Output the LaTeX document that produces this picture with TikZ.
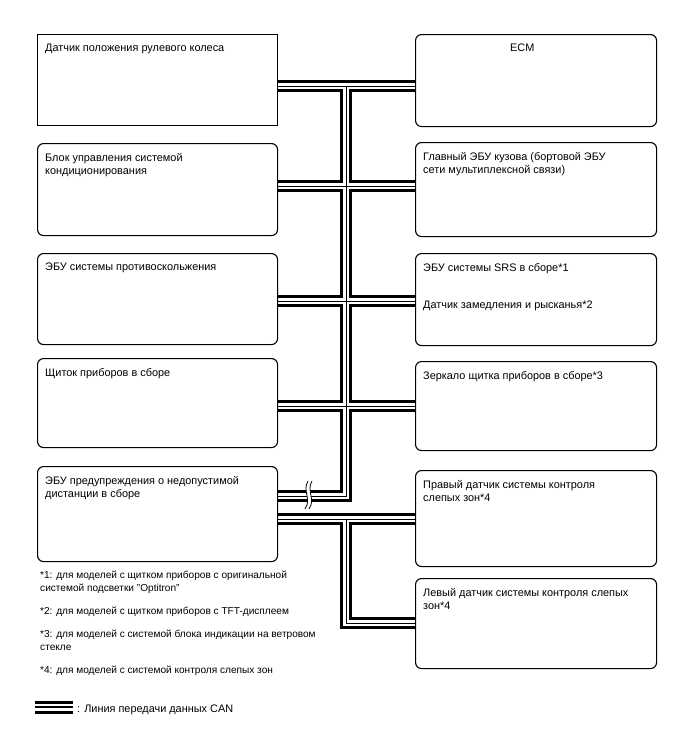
\documentclass[tikz,border=0pt]{standalone}
\usepackage{fontspec}
\setmainfont{Liberation Sans}
\usetikzlibrary{backgrounds,calc}

\begin{document}
\begin{tikzpicture}[x=1pt, y=-1pt, font=\fontsize{10.9}{13}\selectfont,
  ecubox/.style={draw, line width=1.1pt, rounded corners=6pt, inner sep=0pt,
    anchor=north west, minimum width=240pt},
  sqbox/.style={ecubox, rounded corners=0pt},
  lbl/.style={anchor=north west, inner sep=0pt, align=left},
  note/.style={lbl, font=\fontsize{10.1}{13}\selectfont},
  can/.style={line width=12pt, line join=miter, draw=black,
    postaction={draw=white, line width=5.4pt},
    postaction={draw=black, line width=1pt}}]
\useasboundingbox (0,0) rectangle (688,755);
% left column
\node[sqbox, minimum height=91pt] (L1) at (37,34) {};
\node[ecubox, minimum height=92pt] (L2) at (37,143) {};
\node[ecubox, minimum height=91pt] (L3) at (37,253) {};
\node[ecubox, minimum height=89pt] (L4) at (37,358) {};
\node[ecubox, minimum height=95pt] (L5) at (37,466) {};
% right column
\node[ecubox, minimum width=241pt, minimum height=92pt] (R1) at (415,34) {};
\node[ecubox, minimum width=241pt, minimum height=94pt] (R2) at (415,142) {};
\node[ecubox, minimum width=241pt, minimum height=92pt] (R3) at (415,253) {};
\node[ecubox, minimum width=241pt, minimum height=89pt] (R4) at (415,361) {};
\node[ecubox, minimum width=241pt, minimum height=96pt] (R5) at (415,470) {};
\node[ecubox, minimum width=241pt, minimum height=90pt] (R6) at (415,578) {};
% box texts
\node[lbl] (L1txt) at ($(L1.north west)+(8,10)$) {Датчик положения рулевого колеса};
\node[lbl] (L2txt) at ($(L2.north west)+(8,10)$) {Блок управления системой\\кондиционирования};
\node[lbl] (L3txt) at ($(L3.north west)+(8,10)$) {ЭБУ системы противоскольжения};
\node[lbl] (L4txt) at ($(L4.north west)+(8,10)$) {Щиток приборов в сборе};
\node[lbl] (L5txt) at ($(L5.north west)+(8,10)$) {ЭБУ предупреждения о недопустимой\\дистанции в сборе};
\node[lbl] (R1txt) at ($(R1.north west)+(95,10)$) {ECM};
\node[lbl] (R2txt) at ($(R2.north west)+(8,10)$) {Главный ЭБУ кузова (бортовой ЭБУ\\сети мультиплексной связи)};
\node[lbl] (R3txt) at ($(R3.north west)+(8,10)$) {ЭБУ системы SRS в сборе*1};
\node[lbl] (R3txtb) at ($(R3.north west)+(8,47.5)$) {Датчик замедления и рысканья*2};
\node[lbl] (R4txt) at ($(R4.north west)+(8,10)$) {Зеркало щитка приборов в сборе*3};
\node[lbl] (R5txt) at ($(R5.north west)+(8,10)$) {Правый датчик системы контроля\\слепых зон*4};
\node[lbl] (R6txt) at ($(R6.north west)+(8,10)$) {Левый датчик системы контроля слепых\\зон*4};
% CAN buses
\coordinate (t1) at (346,86);
\coordinate (t2) at (346,186);
\coordinate (t3) at (346,301);
\coordinate (t4) at (346,406);
\coordinate (t5) at (346,496);
\coordinate (b1) at (346,519);
\coordinate (b2) at (346,623);
\begin{scope}[on background layer]
\draw[can] (L1.east |- t1) -- (R1.west |- t1)
  (L2.east |- t2) -- (R2.west |- t2)
  (L3.east |- t3) -- (R3.west |- t3)
  (L4.east |- t4) -- (R4.west |- t4)
  (t1) -- (t5) -- (L5.east |- t5);
\draw[can] (L5.east |- b1) -- (R5.west |- b1)
  (b1) -- (b2) -- (R6.west |- b2);
\end{scope}
% break mark
\coordinate (brk) at (307,496);
\begin{scope}[shift={(brk)}]
\fill[white] (1,-15) .. controls (-5,-5) and (5,3) .. (-2,13) -- (2,13)
  .. controls (9,3) and (-1,-5) .. (5,-15) -- cycle;
\draw[line width=0.8pt] (1,-15) .. controls (-5,-5) and (5,3) .. (-2,13);
\draw[line width=0.8pt] (5,-15) .. controls (-1,-5) and (9,3) .. (2,13);
\end{scope}
% notes
\node[note] (fn1) at (40,570.5) {*1: для моделей с щитком приборов с оригинальной\\системой подсветки "Optitron"};
\node[note] (fn2) at (40,606.5) {*2: для моделей с щитком приборов с TFT-дисплеем};
\node[note] (fn3) at (40,629.5) {*3: для моделей с системой блока индикации на ветровом\\стекле};
\node[note] (fn4) at (40,665.5) {*4: для моделей с системой контроля слепых зон};
% legend
\node[anchor=base west, inner sep=0pt] (legtxt) at (77,712) {: Линия передачи данных CAN};
\fill (35,701) rectangle (73,703.7);
\fill (35,706) rectangle (73,708.3);
\fill (35,711) rectangle (73,713.7);
\end{tikzpicture}
\end{document}
